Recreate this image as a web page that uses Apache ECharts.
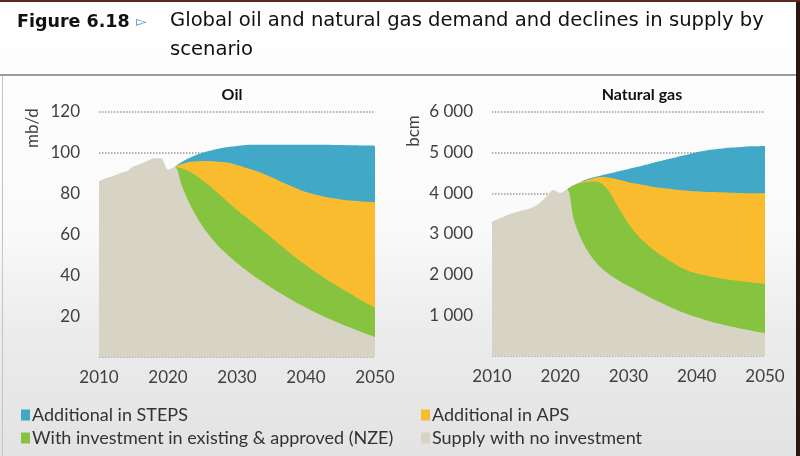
<!DOCTYPE html>
<html>
<head>
<meta charset="utf-8">
<script src="https://cdn.jsdelivr.net/npm/echarts@6/dist/echarts.min.js"></script>
<style>
html,body{margin:0;padding:0;background:#fff;}
#chart{width:800px;height:456px;}
</style>
</head>
<body>
<div id="chart"></div>
<script>
// ---- Data ----
var historyYears = [2010,2011,2012,2013,2014,2015,2016,2017,2018,2019,2020,2021];
var projYears = [2021,2022,2023,2024,2025,2026,2027,2028,2029,2030,2031,2032,2033,2034,2035,2036,2037,2038,2039,2040,2041,2042,2043,2044,2045,2046,2047,2048,2049,2050];

// Oil (mb/d)
var oilHistory = [86,87.5,88.5,90,91,93.3,94.5,96,97.3,97.3,91.8,93.2];
var oilNoInvestment = [93.2,84,76,69.5,64,59.5,55.5,52,49,46,43.3,40.8,38.4,36.1,33.9,31.8,29.8,27.8,25.9,24.1,22.4,20.8,19.2,17.7,16.3,14.9,13.6,12.3,11,9.8];
var oilNZE = [93.2,92.5,91,89,86.5,84,81,78,75,72,69.3,66.6,63.9,61.2,58.4,55.6,52.8,50,47.4,44.9,42.5,40.2,38,35.9,33.8,31.8,29.8,27.8,25.9,24];
var oilAPS = [93.2,94.5,95.5,95.8,96,96,95.8,95.5,95,94,93,92,90.8,89.5,88,86.5,85,83.5,82,80.8,79.8,79,78.3,77.7,77.2,76.8,76.5,76.2,76,75.8];
var oilSTEPS = [93.2,95.5,97.3,98.8,100,101,101.8,102.5,103,103.4,103.7,103.9,104,104,104,104,104,104,104,104,104,103.9,103.9,103.8,103.8,103.7,103.7,103.6,103.6,103.5];

// Natural gas (bcm)
var gasHistory = [3300,3380,3450,3510,3560,3600,3660,3760,3920,4080,4010,4100];
var gasNoInvestment = [4100,3350,2900,2580,2350,2170,2030,1910,1810,1720,1630,1540,1450,1370,1290,1210,1140,1070,1010,950,900,850,805,765,725,690,655,620,590,560];
var gasNZE = [4100,4200,4250,4280,4290,4250,4080,3800,3520,3250,3030,2850,2700,2570,2450,2340,2240,2150,2080,2030,1990,1955,1925,1895,1870,1850,1830,1810,1790,1770];
var gasAPS = [4100,4200,4270,4330,4380,4400,4390,4360,4320,4270,4240,4210,4180,4150,4130,4110,4090,4075,4060,4050,4040,4030,4025,4020,4015,4010,4005,4000,4000,4000];
var gasSTEPS = [4100,4200,4280,4350,4400,4440,4480,4520,4560,4600,4640,4680,4720,4770,4810,4850,4890,4930,4970,5010,5040,5070,5090,5110,5125,5135,5145,5155,5160,5165];

var xTicks = [2010,2020,2030,2040,2050];
var names = ['Additional in STEPS','Additional in APS','With investment in existing & approved (NZE)','Supply with no investment'];
var colors = {steps:'#41a8c7', aps:'#f9bc2e', nze:'#86c33f', none:'#d8d4c5'};

// ---- helpers ----
function pairs(xs, ys){ return xs.map(function(x,i){ return [x, ys[i]]; }); }
function joinHist(hx, hy, px, py){
  var out = pairs(hx, hy);
  for (var i=1;i<px.length;i++) out.push([px[i], py[i]]);
  return out;
}
function areaSeries(name, color, data, idx, z){
  return {
    name:name, type:'line', xAxisIndex:idx, yAxisIndex:idx, data:data,
    showSymbol:false, symbol:'none', smooth:0.3, silent:true, z:z,
    lineStyle:{width:0, color:color}, itemStyle:{color:color},
    areaStyle:{color:color, opacity:1}
  };
}

var labelFont = {color:'#404040', fontFamily:'Lato', fontSize:17};

function legendAt(name, left, top){
  return {left:left, top:top, orient:'horizontal', itemWidth:9, itemHeight:11, icon:'rect',
    selectedMode:false, data:[name],
    textStyle:{color:'#333', fontFamily:'Lato', fontSize:18, padding:[0,0,0,-3]}};
}

var chart = echarts.init(document.getElementById('chart'), null, {renderer:'canvas'});
var option = {
  animation:false,
  backgroundColor:{type:'linear', x:0, y:0, x2:0, y2:1, colorStops:[
    {offset:0, color:'#ffffff'},{offset:0.5, color:'#fafafa'},{offset:0.72, color:'#ececec'},{offset:1, color:'#e3e3e3'}]},
  grid:[
    {left:99, right:425, top:112, bottom:99},
    {left:492, right:35, top:112, bottom:100}
  ],
  xAxis:[0,1].map(function(i){ return {
    type:'value', gridIndex:i, min:2010, max:2050, interval:10,
    axisLine:{show:false}, axisTick:{show:false}, splitLine:{show:false},
    axisLabel:Object.assign({margin:12, formatter:function(v){return String(v);}}, labelFont)
  };}),
  yAxis:[
    {type:'value', gridIndex:0, min:0, max:120, interval:20,
     axisLine:{show:false}, axisTick:{show:false},
     splitLine:{show:true, lineStyle:{type:'dotted', color:'#9a9a9a', width:1.5}},
     axisLabel:Object.assign({margin:19, formatter:function(v){return v===0?'':String(v);}}, labelFont)},
    {type:'value', gridIndex:1, min:0, max:6000, interval:1000,
     axisLine:{show:false}, axisTick:{show:false},
     splitLine:{show:true, lineStyle:{type:'dotted', color:'#9a9a9a', width:1.5}},
     axisLabel:Object.assign({margin:19, formatter:function(v){return v===0?'':(v/1000)+' 000';}}, labelFont)}
  ],
  legend:[
    legendAt(names[0], 16, 401),
    legendAt(names[2], 16, 424),
    legendAt(names[1], 416, 401),
    legendAt(names[3], 416, 424)
  ],
  series:[
    areaSeries(names[0], colors.steps, pairs(projYears, oilSTEPS), 0, 2),
    areaSeries(names[1], colors.aps, pairs(projYears, oilAPS), 0, 3),
    areaSeries(names[2], colors.nze, pairs(projYears, oilNZE), 0, 4),
    areaSeries(names[3], colors.none, joinHist(historyYears, oilHistory, projYears, oilNoInvestment), 0, 5),
    areaSeries(names[0], colors.steps, pairs(projYears, gasSTEPS), 1, 2),
    areaSeries(names[1], colors.aps, pairs(projYears, gasAPS), 1, 3),
    areaSeries(names[2], colors.nze, pairs(projYears, gasNZE), 1, 4),
    areaSeries(names[3], colors.none, joinHist(historyYears, gasHistory, projYears, gasNoInvestment), 1, 5)
  ],
  graphic:[
    {type:'rect', shape:{x:0, y:74, width:796, height:2}, style:{fill:'#9c9c9c'}, silent:true},
    {type:'rect', shape:{x:796, y:0, width:4, height:456}, style:{fill:'#2b1711'}, silent:true},
    {type:'rect', shape:{x:0, y:0, width:800, height:2}, style:{fill:'#5b2a1c'}, silent:true},
    {type:'rect', shape:{x:2, y:76, width:1, height:380}, style:{fill:'#c4c4c4'}, silent:true},
    {type:'text', x:17, y:22, style:{text:'Figure 6.18', font:'bold 17.5px "DejaVu Sans"', fill:'#111', textVerticalAlign:'middle'}},
    {type:'text', x:136, y:22, style:{text:'\u25BB', font:'14px "DejaVu Sans"', fill:'#4a8fc6', textVerticalAlign:'middle'}},
    {type:'text', x:170, y:21, style:{text:'Global oil and natural gas demand and declines in supply by', font:'19.6px "DejaVu Sans"', fill:'#111', textVerticalAlign:'middle'}},
    {type:'text', x:170, y:50, style:{text:'scenario', font:'19.6px "DejaVu Sans"', fill:'#111', textVerticalAlign:'middle'}},
    {type:'text', x:232, y:95, style:{text:'Oil', font:'bold 16px Lato', fill:'#111', textAlign:'center', textVerticalAlign:'middle'}},
    {type:'text', x:642, y:95, style:{text:'Natural gas', font:'bold 16px Lato', fill:'#111', textAlign:'center', textVerticalAlign:'middle'}},
    {type:'text', x:33, y:128, rotation:Math.PI/2, style:{text:'mb/d', font:'17px Lato', fill:'#404040', textAlign:'center', textVerticalAlign:'middle'}},
    {type:'text', x:414, y:131, rotation:Math.PI/2, style:{text:'bcm', font:'17px Lato', fill:'#404040', textAlign:'center', textVerticalAlign:'middle'}}
  ]
};
chart.setOption(option);
</script>
</body>
</html>
